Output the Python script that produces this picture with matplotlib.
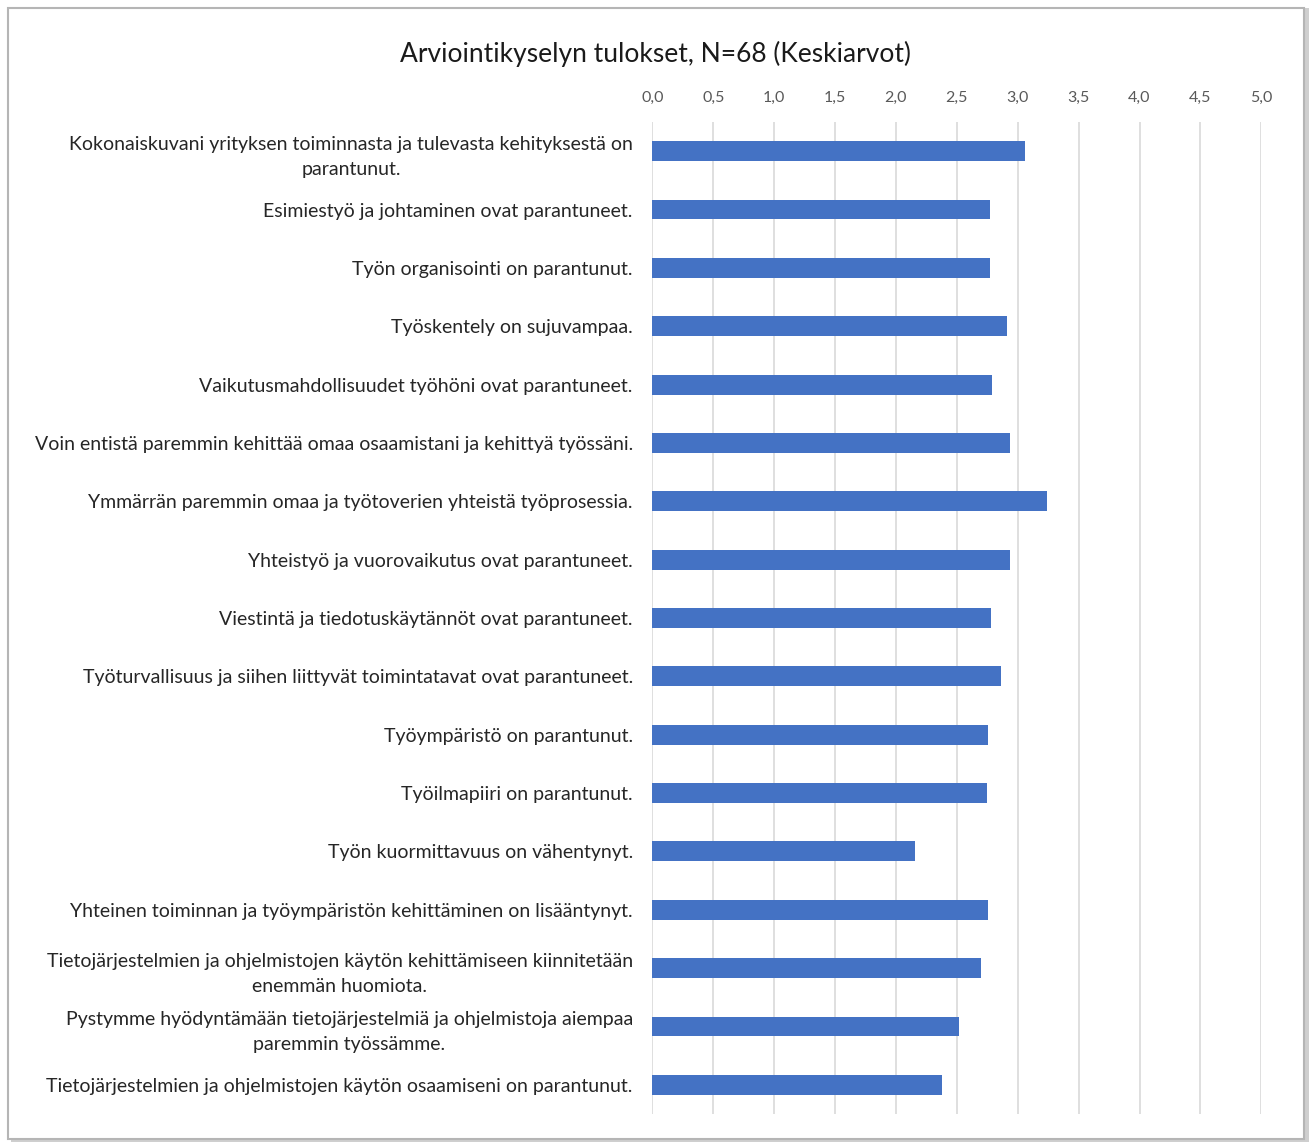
import matplotlib
matplotlib.use("Agg")
import matplotlib.pyplot as plt
from matplotlib.patches import Rectangle

plt.rcParams['font.family'] = ['Lato', 'DejaVu Sans']

title = "Arviointikyselyn tulokset, N=68 (Keskiarvot)"

categories = [
    "Kokonaiskuvani yrityksen toiminnasta ja tulevasta kehityksestä on\nparantunut.",
    "Esimiestyö ja johtaminen ovat parantuneet.",
    "Työn organisointi on parantunut.",
    "Työskentely on sujuvampaa.",
    "Vaikutusmahdollisuudet työhöni ovat parantuneet.",
    "Voin entistä paremmin kehittää omaa osaamistani ja kehittyä työssäni.",
    "Ymmärrän paremmin omaa ja työtoverien yhteistä työprosessia.",
    "Yhteistyö ja vuorovaikutus ovat parantuneet.",
    "Viestintä ja tiedotuskäytännöt ovat parantuneet.",
    "Työturvallisuus ja siihen liittyvät toimintatavat ovat parantuneet.",
    "Työympäristö on parantunut.",
    "Työilmapiiri on parantunut.",
    "Työn kuormittavuus on vähentynyt.",
    "Yhteinen toiminnan ja työympäristön kehittäminen on lisääntynyt.",
    "Tietojärjestelmien ja ohjelmistojen käytön kehittämiseen kiinnitetään\nenemmän huomiota.",
    "Pystymme hyödyntämään tietojärjestelmiä ja ohjelmistoja aiempaa\nparemmin työssämme.",
    "Tietojärjestelmien ja ohjelmistojen käytön osaamiseni on parantunut.",
]

means = [3.06, 2.77, 2.77, 2.91, 2.79, 2.94, 3.24, 2.94, 2.78, 2.86,
         2.76, 2.75, 2.16, 2.76, 2.70, 2.52, 2.38]

xticks = [0.0, 0.5, 1.0, 1.5, 2.0, 2.5, 3.0, 3.5, 4.0, 4.5, 5.0]
xtick_labels = [f"{v:.1f}".replace(".", ",") for v in xticks]

W, H = 1314, 1144
fig = plt.figure(figsize=(W / 100, H / 100), dpi=100)
fig.patch.set_facecolor("white")

# chart frame with a light shadow, kept behind the axes
fig.add_artist(Rectangle((11 / W, 2 / H), 1298 / W, 1134 / H, transform=fig.transFigure,
                         facecolor="#cfcfcf", edgecolor="none", zorder=-3))
fig.add_artist(Rectangle((8 / W, 5 / H), 1296 / W, 1131 / H, transform=fig.transFigure,
                         facecolor="white", edgecolor="#b5b5b5", linewidth=1.5, zorder=-2))

ax = fig.add_axes([652.3 / W, 1 - 1114 / H, 609 / W, (1114 - 122) / H])
ax.set_facecolor("none")

y = list(range(len(categories)))
ax.barh(y, means, height=0.34, color="#4472C4", zorder=3)

ax.set_xlim(0, 5)
ax.set_ylim(len(categories) - 0.5, -0.5)
ax.set_xticks(xticks)
ax.set_xticklabels(xtick_labels)
ax.xaxis.tick_top()
ax.tick_params(axis="x", length=0, pad=12, labelsize=11.5, labelcolor="#595959")
ax.set_yticks(y)
ax.set_yticklabels(categories, fontsize=14, color="#262626",
                   multialignment="center", linespacing=1.6)
ax.tick_params(axis="y", length=0, pad=14)
ax.grid(axis="x", color="#dcdcdc", linewidth=1.3, zorder=0)
for s in ax.spines.values():
    s.set_visible(False)

fig.text(655 / W, 1 - 54 / H, title, ha="center", va="center", fontsize=19, color="#1a1a1a")

fig.savefig("out.png", dpi=100)
